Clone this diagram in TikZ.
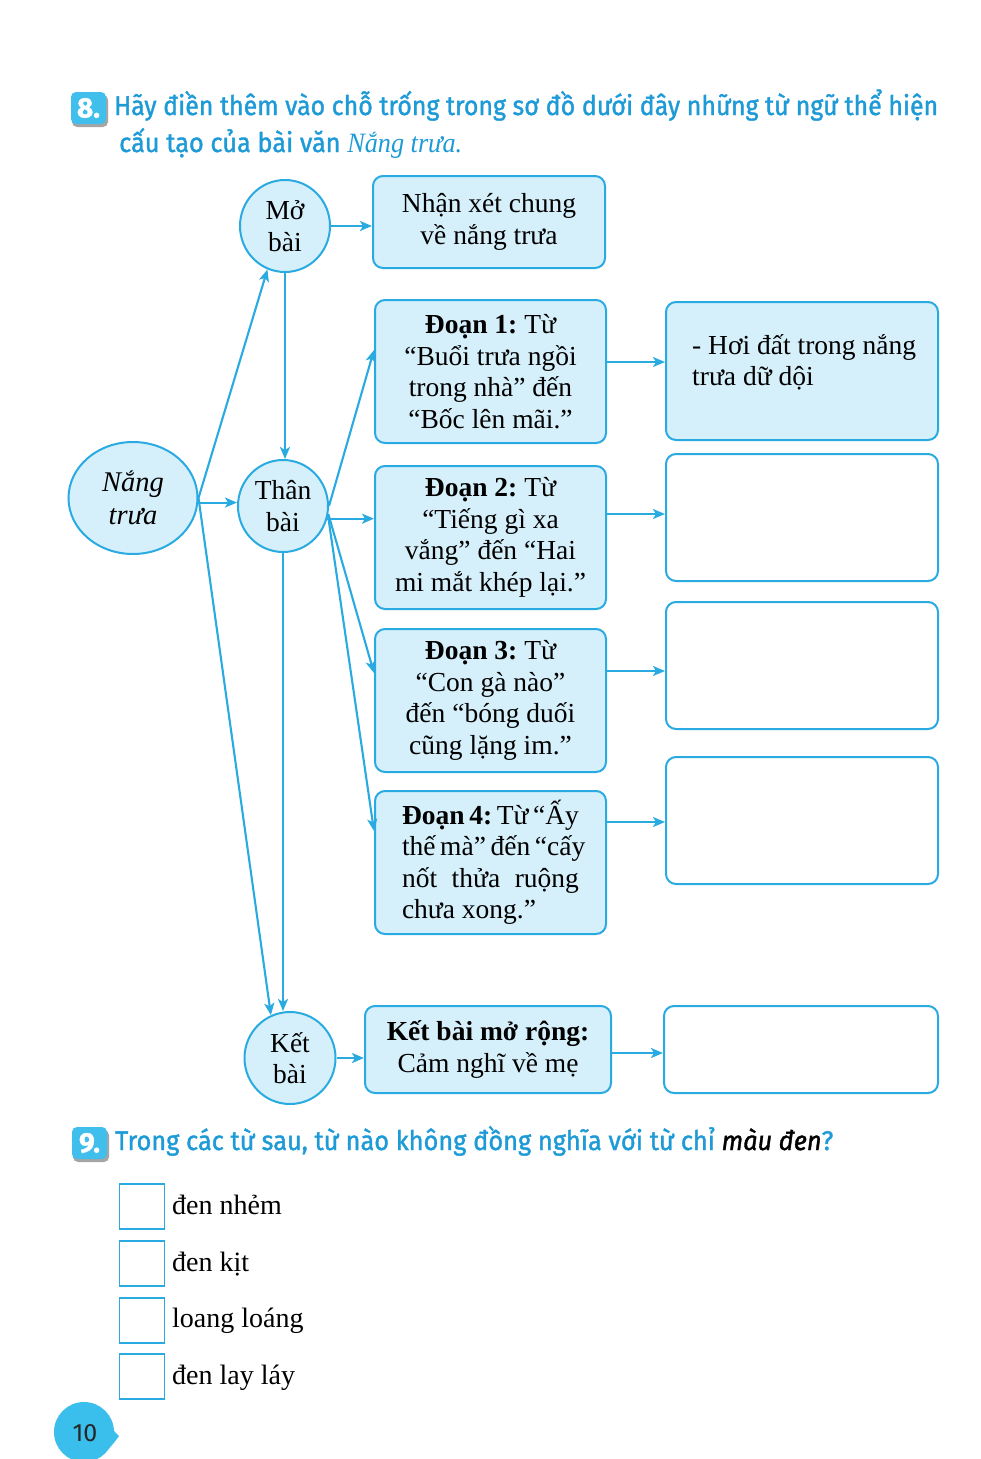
\documentclass[tikz,border=0pt]{standalone}
\usepackage{fontspec}
\usepackage{graphicx}
\setmainfont{Liberation Serif}
\newfontfamily\tsans{Fira Sans}[FakeBold=1.4]
\newfontfamily\psans{Fira Sans}
\usetikzlibrary{shapes.geometric,arrows.meta,calc}
\definecolor{lb}{RGB}{41,171,226}
\definecolor{lf}{RGB}{214,240,251}
\definecolor{tb}{RGB}{30,155,215}
\definecolor{bdg}{RGB}{64,190,236}
\definecolor{shd}{RGB}{165,165,165}
\definecolor{pg}{RGB}{58,190,236}
\newcommand{\dfont}{\fontsize{27.5}{31.5}\selectfont}
\newcommand{\tfont}{\fontsize{27}{32}\selectfont\tsans}
\newcommand{\ofont}{\fontsize{28}{32}\selectfont}
\frenchspacing
\begin{document}
\begin{tikzpicture}[x=1pt,y=-1pt,
 ln/.style={draw=lb,line width=2.1pt},
 arr/.style={ln,-{Stealth[length=12pt,width=10pt,inset=3pt]}},
 bx/.style={rectangle,draw=lb,line width=2pt,fill=lf,rounded corners=10pt,inner sep=0pt,align=center,font=\dfont},
 ebx/.style={bx,fill=white},
 el/.style={ellipse,draw=lb,line width=2pt,fill=lf,inner sep=0pt,align=center,font=\dfont},
 chk/.style={rectangle,draw=lb,line width=1.6pt,minimum size=45pt,inner sep=0pt},
 opt/.style={anchor=base west,inner sep=0pt,font=\ofont},
 badge/.style={rectangle,rounded corners=5pt,fill=bdg,minimum width=35pt,minimum height=32pt,inner sep=0pt,text=white,font=\fontsize{28}{30}\selectfont\tsans\bfseries},
]
\fill[white] (0,0) rectangle (980,1459);
\path[use as bounding box] (0,0) rectangle (980,1459);

% ---- question 8 heading
\fill[shd,rounded corners=5pt] (72,95) rectangle (108,127);
\node[badge] (b8) at (88.5,108) {8.};
\node[anchor=base west,inner sep=0pt,text=tb] (t1) at (114,115)
  {\resizebox{824pt}{\height}{\tfont Hãy điền thêm vào chỗ trống trong sơ đồ dưới đây những từ ngữ thể hiện}};
\node[anchor=base west,inner sep=0pt,text=tb] (t2) at (119,152)
  {\resizebox{343pt}{\height}{\tfont cấu tạo của bài văn {\fontsize{28}{32}\selectfont\rmfamily\itshape Nắng trưa.}}};

% ---- diagram nodes
\node[el,minimum width=90pt,minimum height=92pt] (mb) at (285,226) {Mở\\bài};
\node[el,minimum width=129pt,minimum height=112pt,font=\fontsize{28.5}{33}\selectfont\itshape] (nt) at (133,498) {Nắng\\trưa};
\node[el,minimum width=90pt,minimum height=92pt] (tb) at (283,506) {Thân\\bài};
\node[el,minimum width=91pt,minimum height=92pt] (kt) at (290,1058) {Kết\\bài};

\node[bx,minimum width=232pt,minimum height=92pt] (nx) at (489,222) {Nhận xét chung\\về nắng trưa};
\node[bx,minimum width=231pt,minimum height=143pt] (d1) at (490.5,371.5)
  {\textbf{Đoạn 1:} Từ\\“Buổi trưa ngồi\\trong nhà” đến\\“Bốc lên mãi.”};
\node[bx,minimum width=231pt,minimum height=143pt] (d2) at (490.5,537.5)
  {\textbf{Đoạn 2:} Từ\\“Tiếng gì xa\\vắng” đến “Hai\\mi mắt khép lại.”};
\node[bx,minimum width=231pt,minimum height=143pt] (d3) at (490.5,700.5)
  {\textbf{Đoạn 3:} Từ\\“Con gà nào”\\đến “bóng duối\\cũng lặng im.”};
\node[bx,minimum width=231pt,minimum height=143pt,align=left] (d4) at (490.5,862.5)
  {\makebox[177pt][s]{\textbf{Đoạn 4:} Từ “Ấy}\\\makebox[177pt][s]{thế mà” đến “cấy}\\\makebox[177pt][s]{nốt thửa ruộng}\\\makebox[177pt][l]{chưa xong.”}};
\node[bx,minimum width=246pt,minimum height=87pt] (kb) at (488,1049.5)
  {\textbf{Kết bài mở rộng:}\\Cảm nghĩ về mẹ};

\node[bx,minimum width=272pt,minimum height=138pt] (r1) at (802,371) {};
\node[anchor=north west,inner sep=0pt,align=left,font=\dfont] (r1t) at (692,334) {- Hơi đất trong nắng\\trưa dữ dội};
\node[ebx,minimum width=272pt,minimum height=127pt] (r2) at (802,517.5) {};
\node[ebx,minimum width=272pt,minimum height=127pt] (r3) at (802,665.5) {};
\node[ebx,minimum width=272pt,minimum height=127pt] (r4) at (802,820.5) {};
\node[ebx,minimum width=274pt,minimum height=87pt] (r5) at (801,1049.5) {};

% ---- connectors
\draw[arr] (nt.east) -- (mb.248);
\draw[arr] (nt.-4) -- (nt.-4 -| tb.west);
\draw[arr] (nt.east) -- (kt.114);
\draw[arr] (mb.south) -- (mb.south |- tb.north);
\draw[arr] (tb.south) -- (tb.south |- kt.north);
\draw[arr] (mb.east) -- (mb.east -| nx.west);
\draw[arr] (tb.east) -- ($(d1.west)+(0,-21.5)$);
\draw[arr] (tb.-16) -- (tb.-16 -| d2.west);
\draw[arr] (tb.-10) -- ($(d3.west)+(0,-27.5)$);
\draw[arr] (tb.-12) -- ($(d4.west)+(0,-31.5)$);
\draw[arr] (kt.east) -- (kt.east -| kb.west);
\coordinate (a1) at ($(d1.east)+(0,-9.5)$);
\coordinate (a2) at ($(d2.east)+(0,-23.5)$);
\coordinate (a3) at ($(d3.east)+(0,-29.5)$);
\coordinate (a4) at ($(d4.east)+(0,-40.5)$);
\coordinate (a5) at ($(kb.east)+(0,3.5)$);
\draw[arr] (a1) -- (a1 -| r1.west);
\draw[arr] (a2) -- (a2 -| r2.west);
\draw[arr] (a3) -- (a3 -| r3.west);
\draw[arr] (a4) -- (a4 -| r4.west);
\draw[arr] (a5) -- (a5 -| r5.west);

% ---- question 9
\fill[shd,rounded corners=5pt] (73,1130) rectangle (109,1162);
\node[badge] (b9) at (89.5,1143) {9.};
\node[anchor=base west,inner sep=0pt,text=tb] (q9) at (115,1150)
  {\resizebox{718pt}{\height}{\tfont Trong các từ sau, từ nào không đồng nghĩa với từ chỉ \textcolor{black}{\itshape màu đen}?}};

\node[chk] (c1) at (142,1206.5) {};
\node[chk] (c2) at (142,1263.5) {};
\node[chk] (c3) at (142,1320.5) {};
\node[chk] (c4) at (142,1376.5) {};
\node[opt] (o1) at (172,1214) {đen nhẻm};
\node[opt] (o2) at (172,1271) {đen kịt};
\node[opt] (o3) at (172,1327) {loang loáng};
\node[opt] (o4) at (172,1384) {đen lay láy};

% ---- page number
\fill[pg] (84,1432) circle (30);
\fill[pg] (100,1407) .. controls (108,1422) and (112,1430) .. (119,1436) .. controls (112,1446) and (106,1452) .. (98,1458) -- cycle;
\node[font=\fontsize{25}{28}\selectfont\psans,text=black!85] (pn) at (85,1433) {10};
\end{tikzpicture}
\end{document}
